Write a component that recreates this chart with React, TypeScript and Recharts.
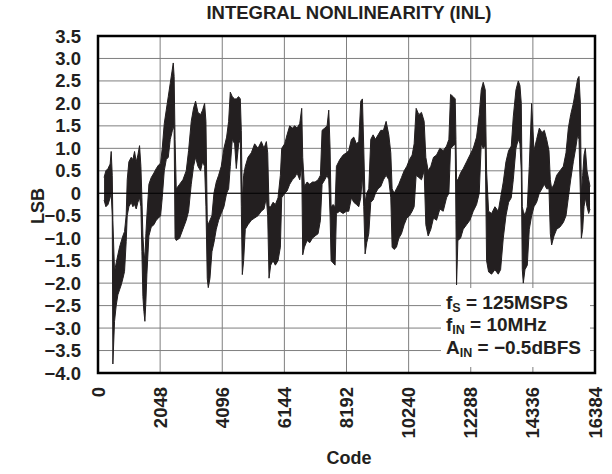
import React from 'react';
import { ComposedChart, Area, XAxis, YAxis, CartesianGrid, ReferenceLine, ReferenceArea } from 'recharts';

// Code values (x) and the lower / upper edge of the INL trace (LSB)
const codes = [
  200, 260, 330, 400, 435, 470, 490, 545, 600, 655, 710, 765, 820, 875, 930, 963, 1018, 1095, 1150, 1205,
  1260, 1315, 1370, 1414, 1447, 1480, 1513, 1546, 1579, 1612, 1678, 1755, 1843, 1920, 1997, 2063, 2118, 2184, 2250, 2316,
  2382, 2437, 2481, 2510, 2540, 2580, 2689, 2799, 2909, 2986, 3074, 3151, 3217, 3294, 3382, 3448, 3514, 3558, 3602, 3635,
  3690, 3756, 3822, 3899, 3976, 4064, 4152, 4240, 4306, 4361, 4427, 4504, 4559, 4636, 4691, 4724, 4757, 4801, 4856, 4944,
  5054, 5164, 5274, 5384, 5472, 5550, 5594, 5638, 5693, 5770, 5847, 5935, 6012, 6056, 6155, 6232, 6320, 6408, 6485, 6562,
  6650, 6716, 6749, 6804, 6892, 6980, 7068, 7156, 7255, 7332, 7387, 7475, 7552, 7607, 7651, 7684, 7750, 7816, 7860, 7970,
  8080, 8190, 8266, 8354, 8431, 8519, 8596, 8662, 8717, 8761, 8805, 8860, 8926, 8992, 9069, 9146, 9234, 9322, 9410, 9498,
  9586, 9652, 9696, 9762, 9839, 9916, 10004, 10092, 10180, 10268, 10356, 10422, 10488, 10576, 10664, 10752, 10807, 10884, 10972, 11060,
  11160, 11270, 11380, 11490, 11567, 11622, 11710, 11776, 11800, 11820, 11864, 11952, 12040, 12150, 12260, 12370, 12480, 12568, 12634, 12700,
  12766, 12810, 12876, 12975, 13085, 13195, 13272, 13360, 13448, 13536, 13624, 13690, 13778, 13855, 13910, 13954, 13987, 14020, 14075, 14152,
  14218, 14295, 14372, 14460, 14548, 14636, 14713, 14790, 14867, 14911, 14955, 15032, 15120, 15230, 15340, 15428, 15505, 15582, 15670, 15747,
  15813, 15857, 15901, 15934, 15978, 16022, 16066, 16121, 16176, 16220,
];
const inlMin = [
  -0.15, -0.3, -0.25, -0.1, 0.0, -0.5, -3.8, -2.85, -2.5, -2.26, -2.15, -2.04, -1.9, -1.74, -1.07, -0.5, -0.3, -0.2, -0.3, -0.25,
  -0.35, -0.2, -0.1, -0.3, -1.3, -2.3, -2.63, -2.85, -2.4, -1.8, -0.95, -0.75, -0.7, -0.6, -0.55, -0.5, -0.1, 0.5, 0.75, 0.8,
  1.2, 1.35, 1.5, 1.4, -1.0, -1.05, -1.0, -0.8, -0.6, -0.4, 0.2, 0.6, 0.8, 0.6, 0.5, 0.7, 0.6, -0.3, -1.9, -2.1,
  -1.9, -1.3, -1.1, -0.8, -0.6, -0.45, -0.3, 0.0, 0.1, 0.6, 1.2, 1.1, 0.55, 1.1, 1.2, -0.3, -1.81, -1.5, -0.8, -0.7,
  -0.6, -0.55, -0.5, -0.4, -0.35, -0.1, -0.5, -1.89, -1.6, -1.5, -1.6, -1.5, -1.2, -0.1, 0.0, 0.05, 0.2, 0.3, 0.35, 0.45,
  0.3, 0.6, -1.37, -1.2, -1.05, -1.1, -1.0, -0.95, -0.9, -0.6, 0.2, 0.3, 0.4, 0.3, -0.5, -1.5, -1.55, -1.6, -0.45, -0.4,
  -0.45, -0.4, -0.4, -0.1, -0.2, -0.25, -0.3, -0.1, 0.4, -0.3, -1.35, -1.1, -0.9, -0.2, -0.15, 0.0, 0.1, 0.15, 0.3, 0.4,
  0.3, -0.1, -1.2, -1.25, -1.2, -1.0, -0.9, -0.7, -0.55, -0.5, -0.4, -0.3, 0.4, 0.35, 0.3, 0.5, -0.7, -0.95, -0.8, -0.55,
  -0.6, -0.35, -0.4, -0.1, 0.0, 1.0, 1.05, 1.1, -0.6, -2.04, -1.05, -1.0, -0.8, -0.7, -0.6, -0.4, -0.25, 0.0, 1.1, 1.0,
  1.05, -1.5, -1.75, -1.8, -1.7, -1.8, -1.7, -1.0, -0.5, -0.2, -0.1, 0.3, 1.0, 1.2, 1.1, 0.5, -1.7, -2.0, -1.7, -1.6,
  -0.8, -0.5, -0.3, -0.2, 0.0, 0.1, 0.2, 0.1, 0.1, -0.9, -1.15, -0.95, -0.8, -0.75, -0.65, -0.5, -0.1, 0.3, 0.7, 1.0,
  1.3, 1.2, 0.0, -1.0, -0.8, -0.3, -0.1, -0.3, -0.45, -0.35,
];
const inlMax = [
  0.35, 0.5, 0.55, 0.65, 0.93, 0.4, -0.6, -1.74, -1.55, -1.37, -1.2, -1.07, -0.95, -0.85, -0.48, 0.3, 0.7, 0.8, 0.75, 0.93,
  0.7, 0.85, 1.06, 0.6, -0.1, -0.95, -1.3, -1.5, -0.9, -0.5, 0.2, 0.35, 0.45, 0.55, 0.63, 0.67, 1.0, 1.55, 1.85, 2.15,
  2.45, 2.7, 2.9, 2.6, 1.2, 0.1, 0.2, 0.3, 0.5, 0.95, 1.6, 1.9, 2.05, 1.8, 1.75, 1.85, 2.0, 1.6, -0.6, -0.7,
  -0.6, -0.5, 0.0, 0.25, 0.4, 0.6, 1.0, 1.25, 1.6, 2.25, 2.15, 2.1, 2.1, 2.15, 2.1, 1.4, -0.2, 0.4, 0.6, 0.8,
  0.9, 1.1, 1.0, 1.15, 1.0, 1.15, 0.9, -0.3, -0.3, -0.2, -0.25, -0.1, 0.4, 1.0, 1.1, 1.3, 1.5, 1.45, 1.5, 1.45,
  1.55, 1.89, 0.8, 0.15, 0.25, 0.2, 0.25, 0.25, 0.3, 0.4, 1.4, 1.45, 1.5, 1.85, 1.0, -0.3, -0.25, -0.3, 0.6, 0.75,
  0.85, 0.9, 0.95, 1.2, 1.25, 1.1, 1.15, 2.05, 2.1, 1.0, -0.2, 0.0, 0.1, 1.2, 1.3, 1.2, 1.3, 1.4, 1.4, 1.6,
  1.3, 0.9, 0.1, 0.0, 0.1, 0.2, 0.35, 0.5, 0.6, 0.75, 0.85, 1.1, 1.89, 1.75, 1.8, 1.6, 0.8, 0.5, 0.6, 0.8,
  0.85, 1.0, 0.95, 1.05, 1.2, 2.2, 2.15, 2.1, 1.2, 0.3, 0.3, 0.45, 0.55, 0.7, 0.85, 1.0, 1.25, 1.75, 2.3, 2.47,
  2.3, 0.5, -0.4, -0.45, -0.3, -0.4, -0.1, 0.25, 0.7, 0.95, 1.05, 1.7, 2.3, 2.5, 2.4, 2.0, -0.3, -0.4, -0.5, -0.3,
  0.6, 2.0, 0.95, 1.2, 1.45, 1.35, 1.4, 1.2, 0.95, 0.3, 0.1, 0.2, 0.4, 0.5, 0.6, 0.9, 1.45, 1.75, 2.0, 2.3,
  2.55, 2.6, 2.0, 0.0, 0.4, 0.85, 1.0, 0.5, 0.3, 0.15,
];

const xTicks = [0, 2048, 4096, 6144, 8192, 10240, 12288, 14336, 16384];
const yTicks = [-4, -3.5, -3, -2.5, -2, -1.5, -1, -0.5, 0, 0.5, 1, 1.5, 2, 2.5, 3, 3.5];
const yTickLabels = ['\u22124.0', '\u22123.5', '\u22123.0', '\u22122.5', '\u22122.0', '\u22121.5', '\u22121.0', '\u22120.5', '0', '0.5', '1.0', '1.5', '2.0', '2.5', '3.0', '3.5'];

const data = codes.map((c, i) => ({ code: c, range: [inlMin[i], inlMax[i]] }));

const FONT = "'Liberation Sans', Arial, Helvetica, sans-serif";
const INK = '#231f20';

const YTick = (props: any) => {
  const { x, y, payload } = props;
  const i = yTicks.indexOf(payload.value);
  return (
    <text x={x - 17} y={y} textAnchor="end" dominantBaseline="central" fontFamily={FONT} fontWeight="bold" fontSize={18.5} fill={INK}>
      {i >= 0 ? yTickLabels[i] : payload.value}
    </text>
  );
};

const XTick = (props: any) => {
  const { x, y, payload } = props;
  return (
    <text transform={`translate(${x},${y + 14}) rotate(-90)`} textAnchor="end" dominantBaseline="central" fontFamily={FONT} fontWeight="bold" fontSize={18.5} fill={INK}>
      {payload.value}
    </text>
  );
};

export default function App() {
  return (
    <div style={{ position: 'absolute', left: 0, top: 0, width: 612, height: 474, background: '#fff' }}>
      <ComposedChart width={612} height={474} data={data} margin={{ top: 36, right: 17, bottom: 0, left: 0 }}>
        <CartesianGrid stroke="#7f7f7f" strokeWidth={1} />
        <XAxis dataKey="code" type="number" domain={[0, 16384]} ticks={xTicks} interval={0} tick={XTick} tickLine={false} axisLine={false} tickSize={0} tickMargin={0} height={101} allowDataOverflow />
        <YAxis type="number" domain={[-4, 3.5]} ticks={yTicks} interval={0} tick={YTick} tickLine={false} axisLine={false} tickSize={0} tickMargin={0} width={98} allowDataOverflow />
        <ReferenceLine y={0} stroke="#000" strokeWidth={1.2} />
        <Area dataKey="range" type="linear" stroke={INK} strokeWidth={1} fill={INK} fillOpacity={1} isAnimationActive={false} dot={false} activeDot={false} />
        <ReferenceArea x1={0} x2={16384} y1={-4} y2={3.5} fill="none" stroke="#000" strokeWidth={2.5} ifOverflow="visible" />
      </ComposedChart>
      <svg width={612} height={474} style={{ position: 'absolute', left: 0, top: 0, pointerEvents: 'none' }}>
        <text x={349} y={19} textAnchor="middle" fontFamily={FONT} fontWeight="bold" fontSize={18.5} fill={INK}>INTEGRAL NONLINEARITY (INL)</text>
        <text transform="translate(38,206) rotate(-90)" textAnchor="middle" dominantBaseline="central" fontFamily={FONT} fontWeight="bold" fontSize={18} fill={INK}>LSB</text>
        <text x={349} y={464} textAnchor="middle" fontFamily={FONT} fontWeight="bold" fontSize={18} fill={INK}>Code</text>
        <rect x={441} y={288} width={149} height={79} fill="#fff" />
        <g fontFamily={FONT} fontWeight="bold" fontSize={19} fill={INK}>
          <text x={446} y={309}>
            <tspan>f</tspan><tspan dy={3} fontSize={12.5}>S</tspan><tspan dy={-3}> = 125MSPS</tspan>
          </text>
          <text x={446} y={331}>
            <tspan>f</tspan><tspan dy={3} fontSize={12.5}>IN</tspan><tspan dy={-3}> = 10MHz</tspan>
          </text>
          <text x={446} y={354}>
            <tspan>A</tspan><tspan dy={3} fontSize={12.5}>IN</tspan><tspan dy={-3}> = {'\u2212'}0.5dBFS</tspan>
          </text>
        </g>
      </svg>
    </div>
  );
}
